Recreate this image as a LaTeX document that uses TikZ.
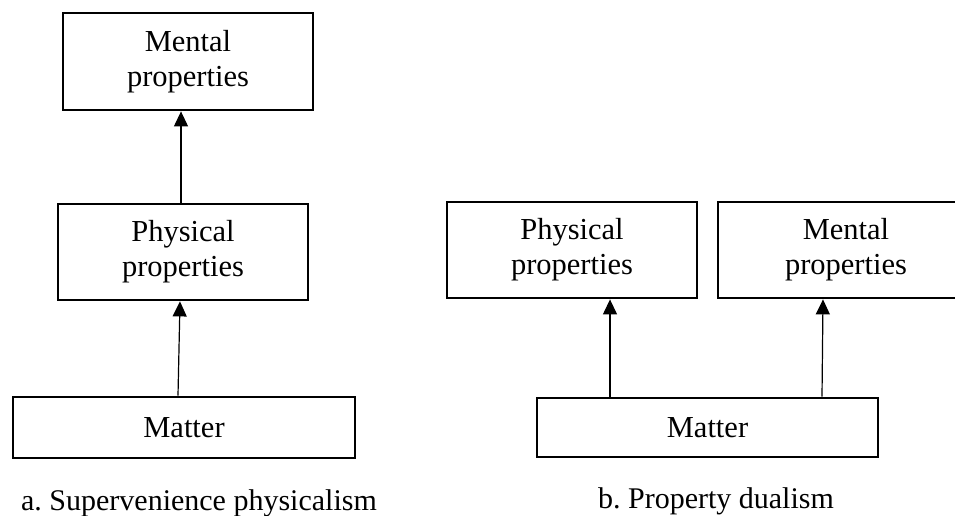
\documentclass[tikz,border=0pt]{standalone}
\usepackage{fontspec}
\setmainfont{Liberation Serif}
\usetikzlibrary{arrows.meta}
\frenchspacing
\begin{document}
\begin{tikzpicture}[x=1pt,y=-1pt,
  box/.style={draw, line width=2.8pt, rectangle, align=center, inner sep=0pt,
    font=\fontsize{30.5}{35}\selectfont},
  arr/.style={line width=1.2pt, -{Triangle[length=15pt,width=14pt]}},
  captext/.style={font=\fontsize{30}{35}\selectfont, anchor=base, inner sep=0pt}]
\useasboundingbox[fill=white] (0,0) rectangle (955,515);
\clip (0,0) rectangle (955,515);
% left diagram
\node[box, minimum width=250pt, minimum height=97pt] (mentL) at (188,61.5) {Mental\\properties};
\node[box, minimum width=250pt, minimum height=96pt] (physL) at (183,252) {Physical\\properties};
\node[box, minimum width=342pt, minimum height=61pt] (matL) at (184,427.5) {Matter};
\draw[arr] ([xshift=-6pt]matL.north) -- ([xshift=-3pt]physL.south);
\draw[arr] ([xshift=-2pt]physL.north) -- ([xshift=-7pt]mentL.south);
\node[captext] (capa) at (199,510) {a. Supervenience physicalism};
% right diagram
\node[box, minimum width=250pt, minimum height=96pt] (physR) at (572,250) {Physical\\properties};
\node[box, minimum width=256pt, minimum height=96pt] (mentR) at (846,250) {Mental\\properties};
\node[box, minimum width=341pt, minimum height=59pt] (matR) at (707.5,427.5) {Matter};
\draw[arr] ([xshift=-97.5pt]matR.north) -- ([xshift=38pt]physR.south);
\draw[arr] ([xshift=114.5pt]matR.north) -- ([xshift=-23pt]mentR.south);
\node[captext] (capb) at (716,508) {b. Property dualism};
\end{tikzpicture}
\end{document}
